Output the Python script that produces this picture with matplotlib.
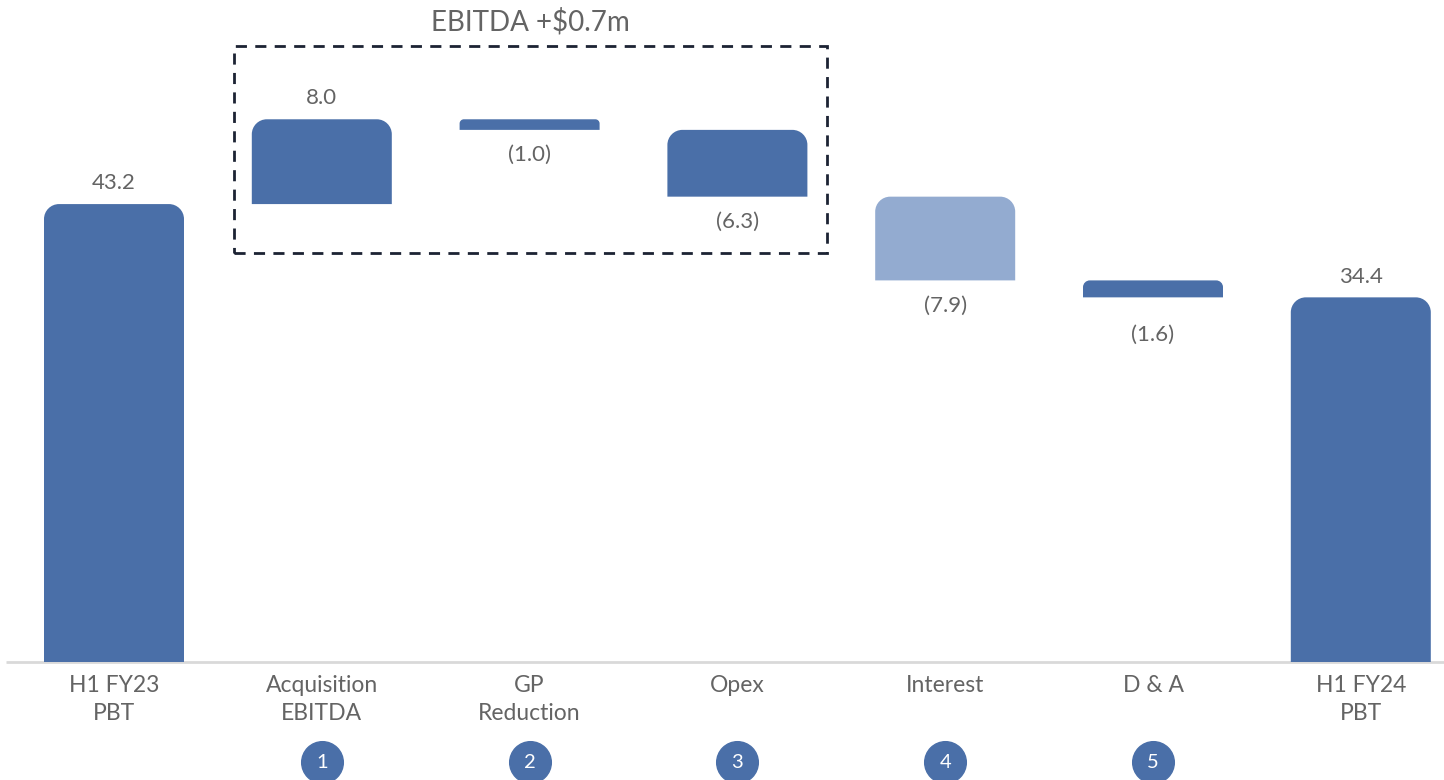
import matplotlib
matplotlib.use("Agg")
import matplotlib.pyplot as plt
from matplotlib.path import Path
from matplotlib.patches import PathPatch, Rectangle

# data
categories = ["H1 FY23\nPBT", "Acquisition\nEBITDA", "GP\nReduction", "Opex", "Interest", "D & A", "H1 FY24\nPBT"]
changes = [43.2, 8.0, -1.0, -6.3, -7.9, -1.6, 34.4]
is_total = [True, False, False, False, False, False, True]
labels = ["43.2", "8.0", "(1.0)", "(6.3)", "(7.9)", "(1.6)", "34.4"]
step_numbers = ["", "1", "2", "3", "4", "5", ""]
box_title = "EBITDA +$0.7m"

# colours
bar_color = "#4a6fa8"
light_color = "#93abd0"
text_color = "#646464"

plt.rcParams["font.family"] = ["Lato", "DejaVu Sans"]

W, H = 1444, 780
fig = plt.figure(figsize=(W / 100, H / 100), dpi=100)
ax = fig.add_axes([0, 0, 1, 1])
ax.axis("off")

# pixel geometry -> data scale
x_step_px = 207.8
y_px = 10.6
ax.set_xlim(-114 / x_step_px, (W - 114) / x_step_px)
ax.set_ylim(-(H - 662) / y_px, 662 / y_px)
bar_w = 140 / x_step_px


def rounded_top(x0, x1, y0, y1, r_px):
    # bar outline with only the upper corners rounded
    h_px = (y1 - y0) * y_px
    r = min(r_px, h_px * 0.4)
    rx = r / x_step_px
    ry = r / y_px
    k = 0.5523
    verts = [(x0, y0), (x0, y1 - ry),
             (x0, y1 - ry + k * ry), (x0 + rx - k * rx, y1), (x0 + rx, y1),
             (x1 - rx, y1),
             (x1 - rx + k * rx, y1), (x1, y1 - ry + k * ry), (x1, y1 - ry),
             (x1, y0), (x0, y0)]
    codes = [Path.MOVETO, Path.LINETO,
             Path.CURVE4, Path.CURVE4, Path.CURVE4,
             Path.LINETO,
             Path.CURVE4, Path.CURVE4, Path.CURVE4,
             Path.LINETO, Path.CLOSEPOLY]
    return Path(verts, codes)


running = 0.0
for i, (cat, ch, tot, lab) in enumerate(zip(categories, changes, is_total, labels)):
    if tot:
        bottom, top = 0.0, ch
        running = ch
    else:
        start = running
        running = running + ch
        bottom, top = min(start, running), max(start, running)
    color = light_color if cat == "Interest" else bar_color
    p = rounded_top(i - bar_w / 2, i + bar_w / 2, bottom, top, 15)
    ax.add_patch(PathPatch(p, facecolor=color, edgecolor="none", zorder=3))

    # value label
    if ch >= 0:
        ax.annotate(lab, (i, top), xytext=(0, 15), textcoords="offset points",
                    ha="center", va="center", fontsize=16, color=text_color)
    else:
        off = -27 if cat == "D & A" else -18
        ax.annotate(lab, (i, bottom), xytext=(0, off), textcoords="offset points",
                    ha="center", va="center", fontsize=16, color=text_color)

    # category label
    ax.annotate(cat, (i, 0), xytext=(0, -9), textcoords="offset points",
                ha="center", va="top", fontsize=16.5, color=text_color,
                linespacing=1.45)

    # numbered circles
    if step_numbers[i]:
        ax.scatter([i], [-100 / y_px], s=900, color=bar_color, zorder=4, clip_on=False)
        ax.text(i, -100 / y_px, step_numbers[i], ha="center", va="center",
                fontsize=14.5, color="white", zorder=5)

# baseline
ax.plot([(6 - 114) / x_step_px, (W - 114) / x_step_px], [0, 0],
        color="#d9d9d9", lw=2, zorder=2, solid_capstyle="butt")

# dashed EBITDA box
bx0 = (234 - 114) / x_step_px
bx1 = (827 - 114) / x_step_px
by0 = (662 - 253) / y_px
by1 = (662 - 46) / y_px
ax.add_patch(Rectangle((bx0, by0), bx1 - bx0, by1 - by0, fill=False,
                       edgecolor="#1c2333", lw=2, linestyle=(0, (4, 3)), zorder=2))
ax.text((bx0 + bx1) / 2, (662 - 22) / y_px, box_title, ha="center", va="center",
        fontsize=20, color=text_color)

fig.savefig("out.png", dpi=100)
